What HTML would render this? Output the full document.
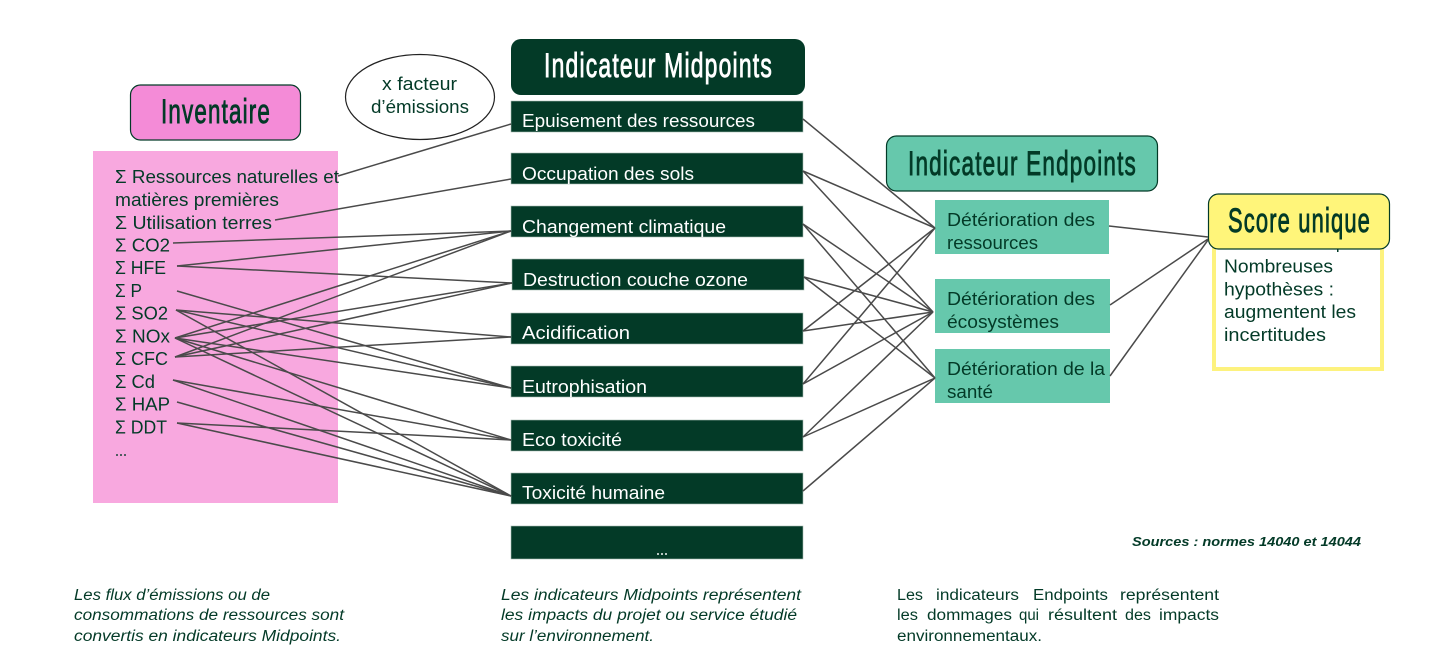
<!DOCTYPE html>
<html lang="fr">
<head>
<meta charset="utf-8">
<title>Inventaire, Midpoints, Endpoints</title>
<style>
html,body{margin:0;padding:0;background:#fff;width:1445px;height:660px;overflow:hidden}
svg{display:block}
text{font-family:"Liberation Sans",sans-serif;fill:#033a27}
.b{font-size:18px}
.w{font-size:18px;fill:#fff}
.h{font-size:34px;font-weight:400;letter-spacing:1.800px;stroke:#033a27;stroke-width:.9px}
.i{font-size:15.5px;font-style:italic}
.n{font-size:15.5px}
.l line{stroke:#4a4a4a;stroke-width:1.500}
.m rect{fill:#033a27;stroke:#a9bdb5;stroke-width:.6}
.e rect{fill:#66c8ac}
</style>
</head>
<body>
<svg width="1445" height="660" viewBox="0 0 1445 660" xmlns="http://www.w3.org/2000/svg">
<rect x="93" y="151" width="245" height="352" fill="#f8a8df"/>
<rect x="130.500" y="85" width="170" height="55" rx="10" fill="#f48bd7" stroke="#033a27" stroke-width="1.200"/>
<text class="h" x="161" y="123" textLength="110" lengthAdjust="spacingAndGlyphs">Inventaire</text>
<ellipse cx="420" cy="97" rx="74.500" ry="42.500" fill="#fff" stroke="#222" stroke-width="1.200"/>
<text class="b" x="382" y="90" textLength="75" lengthAdjust="spacingAndGlyphs">x facteur</text>
<text class="b" x="371" y="113" textLength="98" lengthAdjust="spacingAndGlyphs">d’émissions</text>

<g class="b">
<text class="b" x="115" y="183" textLength="224" lengthAdjust="spacingAndGlyphs">Σ Ressources naturelles et</text>
<text class="b" x="115" y="206" textLength="164" lengthAdjust="spacingAndGlyphs">matières premières</text>
<text class="b" x="115" y="229" textLength="157" lengthAdjust="spacingAndGlyphs">Σ Utilisation terres</text>
<text class="b" x="115" y="251.500" textLength="55" lengthAdjust="spacingAndGlyphs">Σ CO2</text>
<text class="b" x="115" y="274" textLength="51" lengthAdjust="spacingAndGlyphs">Σ HFE</text>
<text class="b" x="115" y="297" textLength="27" lengthAdjust="spacingAndGlyphs">Σ P</text>
<text class="b" x="115" y="319.500" textLength="53" lengthAdjust="spacingAndGlyphs">Σ SO2</text>
<text class="b" x="115" y="342.500" textLength="55" lengthAdjust="spacingAndGlyphs">Σ NOx</text>
<text class="b" x="115" y="365" textLength="53" lengthAdjust="spacingAndGlyphs">Σ CFC</text>
<text class="b" x="115" y="388" textLength="40" lengthAdjust="spacingAndGlyphs">Σ Cd</text>
<text class="b" x="115" y="410.500" textLength="55" lengthAdjust="spacingAndGlyphs">Σ HAP</text>
<text class="b" x="115" y="433.500" textLength="52" lengthAdjust="spacingAndGlyphs">Σ DDT</text>
<text class="b" x="115" y="456" textLength="12" lengthAdjust="spacingAndGlyphs">...</text>
</g>

<rect x="511" y="39" width="294" height="56" rx="10" fill="#033a27"/>
<text class="h" x="544" y="77" textLength="229" lengthAdjust="spacingAndGlyphs" style="fill:#fff;stroke:#fff">Indicateur Midpoints</text>

<g class="m">
<rect x="511" y="101" width="292" height="31"/>
<rect x="511" y="153" width="292" height="31"/>
<rect x="511" y="206" width="292" height="31"/>
<rect x="512" y="259" width="292" height="31"/>
<rect x="511" y="313" width="292" height="31"/>
<rect x="511" y="366" width="292" height="31"/>
<rect x="511" y="420" width="292" height="31"/>
<rect x="511" y="473" width="292" height="31"/>
<rect x="511" y="526" width="292" height="33"/>
</g>
<text class="w" x="522" y="127" textLength="233" lengthAdjust="spacingAndGlyphs">Epuisement des ressources</text>
<text class="w" x="522" y="180" textLength="172" lengthAdjust="spacingAndGlyphs">Occupation des sols</text>
<text class="w" x="522" y="233" textLength="204" lengthAdjust="spacingAndGlyphs">Changement climatique</text>
<text class="w" x="523" y="286" textLength="225" lengthAdjust="spacingAndGlyphs">Destruction couche ozone</text>
<text class="w" x="522" y="339" textLength="108" lengthAdjust="spacingAndGlyphs">Acidification</text>
<text class="w" x="522" y="393" textLength="125" lengthAdjust="spacingAndGlyphs">Eutrophisation</text>
<text class="w" x="522" y="446" textLength="100" lengthAdjust="spacingAndGlyphs">Eco toxicité</text>
<text class="w" x="522" y="499" textLength="143" lengthAdjust="spacingAndGlyphs">Toxicité humaine</text>
<text class="w" x="656" y="555" textLength="12" lengthAdjust="spacingAndGlyphs">...</text>

<rect x="886.500" y="136" width="271" height="55" rx="10" fill="#66c8ac" stroke="#033a27" stroke-width="1.200"/>
<text class="h" x="908" y="175" textLength="229" lengthAdjust="spacingAndGlyphs">Indicateur Endpoints</text>

<g class="e">
<rect x="935" y="200" width="174" height="54"/>
<rect x="935" y="279" width="175" height="54"/>
<rect x="935" y="349" width="175" height="54"/>
</g>
<text class="b" x="947" y="226" textLength="148" lengthAdjust="spacingAndGlyphs">Détérioration des</text>
<text class="b" x="947" y="249" textLength="91" lengthAdjust="spacingAndGlyphs">ressources</text>
<text class="b" x="947" y="305" textLength="148" lengthAdjust="spacingAndGlyphs">Détérioration des</text>
<text class="b" x="947" y="328" textLength="112" lengthAdjust="spacingAndGlyphs">écosystèmes</text>
<text class="b" x="947" y="375" textLength="158" lengthAdjust="spacingAndGlyphs">Détérioration de la</text>
<text class="b" x="947" y="398" textLength="46" lengthAdjust="spacingAndGlyphs">santé</text>

<rect x="1214" y="246" width="168" height="123" fill="#fff" stroke="#fdf27e" stroke-width="4"/>
<rect x="1337" y="248" width="1.500" height="4" fill="#033a27"/>
<rect x="1208.500" y="194" width="181" height="55" rx="10" fill="#fff57a" stroke="#033a27" stroke-width="1.200"/>
<text class="h" x="1228" y="232" textLength="143" lengthAdjust="spacingAndGlyphs">Score unique</text>
<text class="b" x="1224" y="272.500" textLength="109" lengthAdjust="spacingAndGlyphs">Nombreuses</text>
<text class="b" x="1224" y="295.500" textLength="110" lengthAdjust="spacingAndGlyphs">hypothèses :</text>
<text class="b" x="1224" y="318" textLength="132" lengthAdjust="spacingAndGlyphs">augmentent les</text>
<text class="b" x="1224" y="341" textLength="102" lengthAdjust="spacingAndGlyphs">incertitudes</text>

<g class="l">
<line x1="338" y1="176" x2="511" y2="124"/>
<line x1="275" y1="220" x2="511" y2="179"/>
<line x1="173" y1="243" x2="511" y2="231"/>
<line x1="177" y1="266" x2="511" y2="231"/>
<line x1="177" y1="266" x2="512" y2="283"/>
<line x1="177" y1="291" x2="511" y2="388"/>
<line x1="176" y1="310" x2="511" y2="337"/>
<line x1="176" y1="310" x2="511" y2="388"/>
<line x1="176" y1="310" x2="511" y2="496"/>
<line x1="175" y1="338" x2="511" y2="231"/>
<line x1="175" y1="338" x2="512" y2="283"/>
<line x1="175" y1="338" x2="511" y2="388"/>
<line x1="175" y1="338" x2="511" y2="440"/>
<line x1="175" y1="338" x2="511" y2="496"/>
<line x1="175" y1="357" x2="511" y2="231"/>
<line x1="175" y1="357" x2="512" y2="283"/>
<line x1="175" y1="357" x2="511" y2="337"/>
<line x1="173" y1="380" x2="511" y2="440"/>
<line x1="173" y1="380" x2="511" y2="496"/>
<line x1="177" y1="402" x2="511" y2="496"/>
<line x1="177" y1="423" x2="511" y2="440"/>
<line x1="177" y1="423" x2="511" y2="496"/>

<line x1="803" y1="119" x2="935" y2="228"/>
<line x1="803" y1="171" x2="935" y2="228"/>
<line x1="803" y1="171" x2="933" y2="312"/>
<line x1="803" y1="224" x2="933" y2="312"/>
<line x1="803" y1="224" x2="935" y2="378"/>
<line x1="804" y1="277" x2="933" y2="312"/>
<line x1="804" y1="277" x2="935" y2="378"/>
<line x1="803" y1="331" x2="935" y2="228"/>
<line x1="803" y1="331" x2="933" y2="312"/>
<line x1="803" y1="384" x2="935" y2="228"/>
<line x1="803" y1="384" x2="933" y2="312"/>
<line x1="803" y1="437" x2="933" y2="312"/>
<line x1="803" y1="437" x2="935" y2="378"/>
<line x1="803" y1="491" x2="935" y2="378"/>

<line x1="1109" y1="226" x2="1208" y2="237"/>
<line x1="1110" y1="305" x2="1208" y2="239"/>
<line x1="1110" y1="376" x2="1208" y2="240"/>
</g>

<text class="i" x="74" y="600" textLength="196" lengthAdjust="spacingAndGlyphs">Les flux d’émissions ou de</text>
<text class="i" x="74" y="620" textLength="270" lengthAdjust="spacingAndGlyphs">consommations de ressources sont</text>
<text class="i" x="74" y="641" textLength="267" lengthAdjust="spacingAndGlyphs">convertis en indicateurs Midpoints.</text>
<text class="i" x="501" y="600" textLength="300" lengthAdjust="spacingAndGlyphs">Les indicateurs Midpoints représentent</text>
<text class="i" x="501" y="620" textLength="296" lengthAdjust="spacingAndGlyphs">les impacts du projet ou service étudié</text>
<text class="i" x="501" y="641" textLength="153" lengthAdjust="spacingAndGlyphs">sur l’environnement.</text>

<text class="n" x="897" y="600" textLength="26" lengthAdjust="spacingAndGlyphs">Les</text>
<text class="n" x="936" y="600" textLength="83" lengthAdjust="spacingAndGlyphs">indicateurs</text>
<text class="n" x="1033" y="600" textLength="75" lengthAdjust="spacingAndGlyphs">Endpoints</text>
<text class="n" x="1120" y="600" textLength="99" lengthAdjust="spacingAndGlyphs">représentent</text>
<text class="n" x="897" y="620" textLength="21" lengthAdjust="spacingAndGlyphs">les</text>
<text class="n" x="927" y="620" textLength="85" lengthAdjust="spacingAndGlyphs">dommages</text>
<text class="n" x="1019" y="620" textLength="20" lengthAdjust="spacingAndGlyphs">qui</text>
<text class="n" x="1048" y="620" textLength="69" lengthAdjust="spacingAndGlyphs">résultent</text>
<text class="n" x="1125" y="620" textLength="26" lengthAdjust="spacingAndGlyphs">des</text>
<text class="n" x="1159" y="620" textLength="60" lengthAdjust="spacingAndGlyphs">impacts</text>
<text class="n" x="897" y="641" textLength="145" lengthAdjust="spacingAndGlyphs">environnementaux.</text>
<text x="1132" y="546" textLength="229" lengthAdjust="spacingAndGlyphs" style="font-size:13px;font-weight:700;font-style:italic">Sources : normes 14040 et 14044</text>
</svg>
</body>
</html>
